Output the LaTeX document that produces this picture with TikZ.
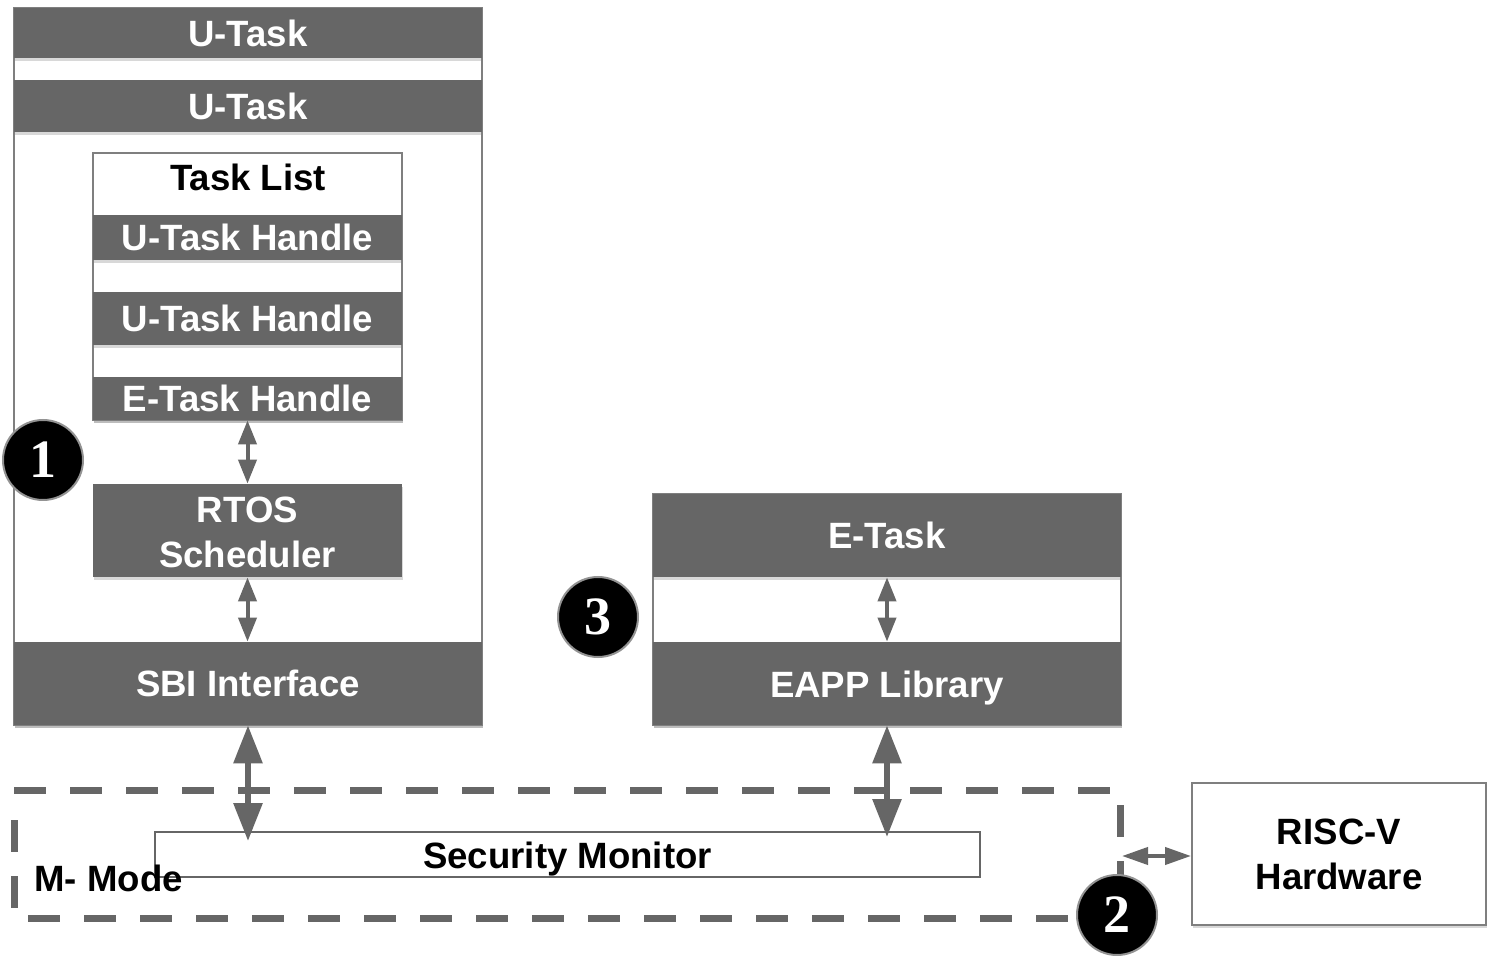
\documentclass[tikz,border=0pt]{standalone}
\usepackage{fontspec}
\setmainfont{Liberation Sans}
\newfontfamily\numfont{Liberation Serif}
\usetikzlibrary{fit,arrows.meta,shadows}
\definecolor{dg}{HTML}{666666}
\definecolor{bg}{HTML}{7F7F7F}
\begin{document}
\begin{tikzpicture}[x=0.5pt,y=-0.5pt,
  lbl/.style={font=\fontsize{18.3}{22.5}\selectfont\bfseries, align=center, inner sep=0pt},
  wlbl/.style={lbl, text=white},
  shad/.style={drop shadow={shadow xshift=0.6pt, shadow yshift=-1.3pt, opacity=0.3}},
  bar/.style={inner sep=0pt, fill=dg, draw=none, shad},
  wbox/.style={inner sep=0pt, fill=white, draw=bg, line width=1pt, shad},
  circ/.style={circle, fill=black, draw=gray!85, line width=1pt, minimum size=40pt, inner sep=0pt, text=white, font=\numfont\bfseries\fontsize{27}{27}\selectfont},
  smallarr/.style={{Triangle[length=12pt,width=9pt]}-{Triangle[length=12pt,width=9pt]}, line width=2pt, draw=dg},
  bigarr/.style={{Triangle[length=19pt,width=14pt]}-{Triangle[length=19pt,width=14pt]}, line width=3pt, draw=dg},
  harr/.style={{Triangle[length=13pt,width=8.5pt]}-{Triangle[length=13pt,width=8.5pt]}, line width=2pt, draw=dg},
  mdash/.style={draw=dg, line width=3.5pt, dash pattern=on 16pt off 12pt}
]
\fill[white] (0,0) rectangle (1489,956);
\useasboundingbox (0,0) rectangle (1489,956);

% left stack
\node[wbox, fit={(14,8) (482,725)}] (left) {};
\node[bar, fit={(14,8) (482,58)}] (ut1) {};
\node[wlbl] (ut1t) at (ut1.center) {U-Task};
\node[bar, fit={(14,80) (482,132)}] (ut2) {};
\node[wlbl] (ut2t) at (ut2.center) {U-Task};
\node[wbox, fit={(93,153) (402,420)}] (tl) {};
\node[lbl] (tltitle) at (248,177) {Task List};
\node[bar, fit={(93,215) (402,260)}] (uth1) {};
\node[wlbl] (uth1t) at (uth1.center) {U-Task Handle};
\node[bar, fit={(93,292) (402,345)}] (uth2) {};
\node[wlbl] (uth2t) at (uth2.center) {U-Task Handle};
\node[bar, fit={(93,377) (402,420)}] (eth) {};
\node[wlbl] (etht) at (eth.center) {E-Task Handle};
\node[bar, fit={(93,484) (402,577)}] (rtos) {};
\node[wlbl] (rtost) at ([yshift=-1pt]rtos.center) {RTOS\\Scheduler};
\node[bar, fit={(14,642) (482,725)}] (sbi) {};
\node[wlbl] (sbit) at (sbi.center) {SBI Interface};

% enclave stack
\node[wbox, fit={(653,494) (1121,725)}] (eright) {};
\node[bar, fit={(653,494) (1121,577)}] (etask) {};
\node[wlbl] (etaskt) at (etask.center) {E-Task};
\node[bar, fit={(653,642) (1121,725)}] (eapp) {};
\node[wlbl] (eappt) at ([yshift=-2.5pt]eapp.center) {EAPP Library};

% M-mode region
\draw[mdash] (14,790) -- (1120,790);
\draw[mdash] (1120,805) -- (1120,880);
\draw[mdash] (14,820) -- (14,912);
\draw[mdash] (28,918) -- (1085,918);
\node[inner sep=0pt, fill=white, draw=dg, line width=1pt, fit={(155,832) (980,877)}] (sm) {};
\node[lbl] (smt) at ([yshift=-2.5pt]sm.center) {Security Monitor};
\node[lbl, anchor=west] (mmode) at (34,878) {M- Mode};

% hardware
\node[wbox, fit={(1192,783) (1486,925)}] (risc) {};
\node[lbl] (risct) at (risc.center) {RISC-V\\Hardware};
\coordinate (mr) at (1122,856);

% connectors
\draw[smallarr] (eth.south) -- (eth.south |- rtos.north);
\draw[smallarr] (rtos.south) -- (rtos.south |- sbi.north);
\draw[smallarr] (etask.south) -- (etask.south |- eapp.north);
\draw[bigarr] (sbi.south) -- ([yshift=-5pt]sbi.south |- sm.north);
\draw[bigarr] (eapp.south) -- ([yshift=-3pt]eapp.south |- sm.north);
\draw[harr] (mr) -- (risc.west |- mr);

% numbered markers
\node[circ] (c1) at (43,460) {1};
\node[circ] (c3) at (598,617) {3};
\node[circ] (c2) at (1117,915) {2};
\end{tikzpicture}
\end{document}
